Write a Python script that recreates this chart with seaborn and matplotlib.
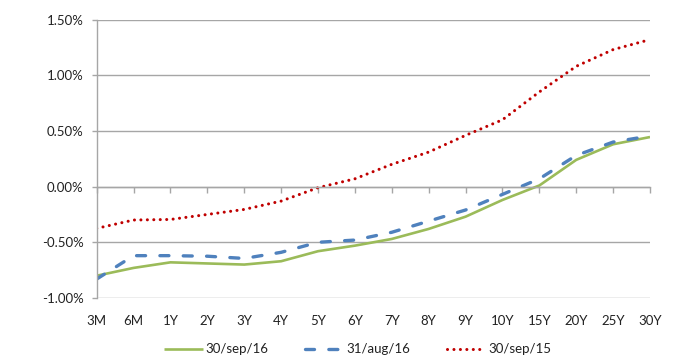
import matplotlib
matplotlib.use("Agg")
import matplotlib.pyplot as plt
import matplotlib.ticker as mticker
import seaborn as sns
import pandas as pd

categories = ["3M", "6M", "1Y", "2Y", "3Y", "4Y", "5Y", "6Y", "7Y", "8Y", "9Y",
              "10Y", "15Y", "20Y", "25Y", "30Y"]
sep16 = [-0.80, -0.73, -0.68, -0.69, -0.70, -0.67, -0.58, -0.53, -0.47, -0.38,
         -0.27, -0.12, 0.01, 0.24, 0.38, 0.445]
aug16 = [-0.83, -0.62, -0.62, -0.625, -0.645, -0.59, -0.50, -0.48, -0.41, -0.31,
         -0.21, -0.07, 0.07, 0.28, 0.40, 0.455]
sep15 = [-0.375, -0.30, -0.295, -0.25, -0.205, -0.13, -0.01, 0.07, 0.20, 0.31,
         0.46, 0.60, 0.85, 1.08, 1.23, 1.32]
series_names = ["30/sep/16", "31/aug/16", "30/sep/15"]
y_ticks = [-1.0, -0.5, 0.0, 0.5, 1.0, 1.5]

sns.set_theme(style="white")
plt.rcParams["font.family"] = ["Lato", "DejaVu Sans"]

fig = plt.figure(figsize=(6.81, 3.55), dpi=100)
ax = fig.add_axes([0.142, 0.1606, 0.9545 - 0.142, 0.945 - 0.1606])

df = pd.DataFrame({"tenor": list(range(len(categories))) * 3,
                   "value": sep16 + aug16 + sep15,
                   "series": [n for n in series_names for _ in categories]})

colors = {"30/sep/16": "#9bbb59", "31/aug/16": "#4f81bd", "30/sep/15": "#c00000"}
styles = {
    "30/sep/16": dict(lw=1.9, ls="-"),
    "31/aug/16": dict(lw=2.4, ls=(0, (2.7, 4.3))),
    "30/sep/15": dict(lw=2.2, ls=(0, (0.01, 2.1))),
}
for name in series_names:
    sub = df[df.series == name]
    sns.lineplot(data=sub, x="tenor", y="value", ax=ax, color=colors[name],
                 label=name, linewidth=styles[name]["lw"],
                 dash_capstyle="round", solid_capstyle="butt")
    ax.lines[-1].set_linestyle(styles[name]["ls"])
    ax.lines[-1].set_dash_capstyle("round")

ax.set_xlim(0, len(categories) - 1)
ax.set_ylim(-1.0, 1.5)
ax.set_yticks(y_ticks)
ax.yaxis.set_major_formatter(mticker.FuncFormatter(lambda v, p: f"{v:.2f}%"))
ax.grid(axis="y", color="#a6a6a6", linewidth=1.0)
ax.set_axisbelow(True)
ax.set_xlabel("")
ax.set_ylabel("")

for s in ["top", "right"]:
    ax.spines[s].set_visible(False)
ax.spines["left"].set_color("#a6a6a6")
ax.spines["left"].set_linewidth(1.0)
ax.spines["bottom"].set_position(("data", 0))
ax.spines["bottom"].set_color("#a6a6a6")
ax.spines["bottom"].set_linewidth(1.0)

ax.set_xticks(range(len(categories)))
ax.tick_params(axis="x", which="both", direction="out", length=4, width=1,
               color="#a6a6a6", labelbottom=False, bottom=True)
ax.tick_params(axis="y", direction="out", length=3.5, width=1, color="#a6a6a6",
               labelsize=9.5, labelcolor="#222222", pad=6, left=True)

sec = ax.secondary_xaxis(0)
sec.set_xticks(range(len(categories)))
sec.set_xticklabels(categories)
sec.tick_params(axis="x", length=0, labelsize=9.5, labelcolor="#222222", pad=12)
sec.spines["bottom"].set_visible(False)

leg = ax.legend(loc="upper center", bbox_to_anchor=(0.472, -0.12), ncol=3,
                frameon=False, fontsize=9.5, handlelength=2.9, columnspacing=2.75,
                handletextpad=0.25)
for t in leg.get_texts():
    t.set_color("#222222")

fig.savefig("out.png", dpi=100)
